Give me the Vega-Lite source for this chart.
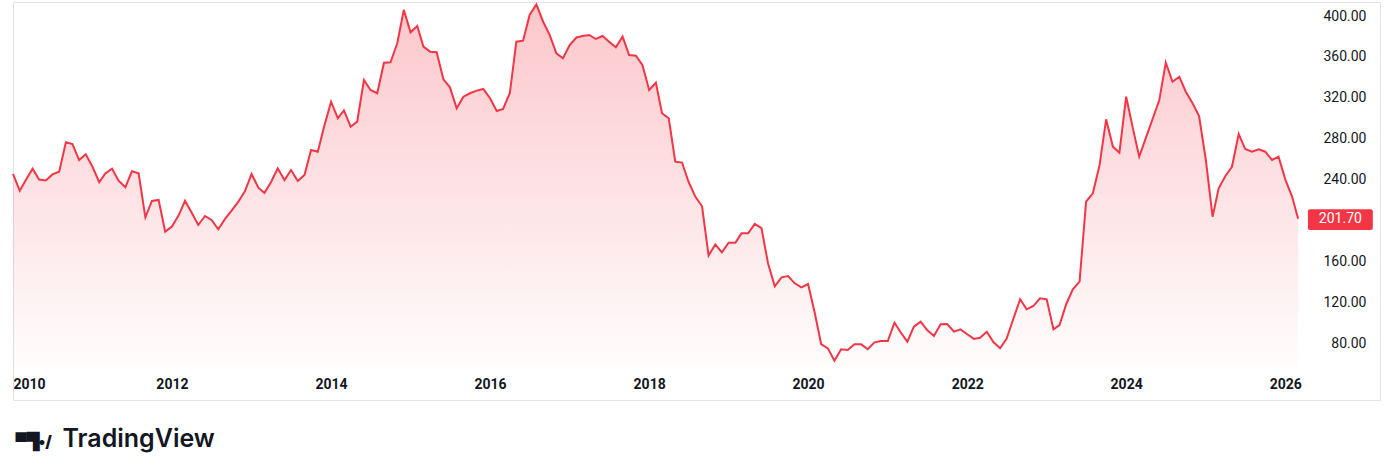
{
  "$schema": "https://vega.github.io/schema/vega-lite/v6.json",
  "width": 1367,
  "height": 398,
  "autosize": {"type": "none"},
  "padding": {"left": 13, "top": 2, "right": 14, "bottom": 76},
  "background": "#ffffff",
  "config": {"view": {"stroke": "#e0e3eb", "strokeWidth": 1}, "font": "Roboto"},
  "data": {"values": [
    {"date": "2010-01-01", "price": 245.4}, {"date": "2010-02-01", "price": 229}, {"date": "2010-03-01", "price": 239.5}, {"date": "2010-04-01", "price": 250.6}, {"date": "2010-05-01", "price": 240}, {"date": "2010-06-01", "price": 239}, {"date": "2010-07-01", "price": 245}, {"date": "2010-08-01", "price": 247.6}, {"date": "2010-09-01", "price": 276.4}, {"date": "2010-10-01", "price": 274.7}, {"date": "2010-11-01", "price": 259}, {"date": "2010-12-01", "price": 264.7},
    {"date": "2011-01-01", "price": 252.5}, {"date": "2011-02-01", "price": 237.3}, {"date": "2011-03-01", "price": 246}, {"date": "2011-04-01", "price": 250.6}, {"date": "2011-05-01", "price": 238.8}, {"date": "2011-06-01", "price": 232.4}, {"date": "2011-07-01", "price": 248}, {"date": "2011-08-01", "price": 246}, {"date": "2011-09-01", "price": 203}, {"date": "2011-10-01", "price": 219}, {"date": "2011-11-01", "price": 220}, {"date": "2011-12-01", "price": 189},
    {"date": "2012-01-01", "price": 194}, {"date": "2012-02-01", "price": 205}, {"date": "2012-03-01", "price": 219.2}, {"date": "2012-04-01", "price": 207.5}, {"date": "2012-05-01", "price": 195.5}, {"date": "2012-06-01", "price": 204.3}, {"date": "2012-07-01", "price": 200.4}, {"date": "2012-08-01", "price": 191.3}, {"date": "2012-09-01", "price": 201.5}, {"date": "2012-10-01", "price": 209.5}, {"date": "2012-11-01", "price": 218.3}, {"date": "2012-12-01", "price": 228.5},
    {"date": "2013-01-01", "price": 245.4}, {"date": "2013-02-01", "price": 232}, {"date": "2013-03-01", "price": 226.8}, {"date": "2013-04-01", "price": 237.8}, {"date": "2013-05-01", "price": 250.9}, {"date": "2013-06-01", "price": 239.5}, {"date": "2013-07-01", "price": 249.3}, {"date": "2013-08-01", "price": 238.5}, {"date": "2013-09-01", "price": 244.4}, {"date": "2013-10-01", "price": 268.9}, {"date": "2013-11-01", "price": 267.2}, {"date": "2013-12-01", "price": 292.5},
    {"date": "2014-01-01", "price": 316.1}, {"date": "2014-02-01", "price": 299.9}, {"date": "2014-03-01", "price": 307.6}, {"date": "2014-04-01", "price": 291.7}, {"date": "2014-05-01", "price": 296.6}, {"date": "2014-06-01", "price": 337.4}, {"date": "2014-07-01", "price": 327.6}, {"date": "2014-08-01", "price": 324.4}, {"date": "2014-09-01", "price": 354.3}, {"date": "2014-10-01", "price": 354.7}, {"date": "2014-11-01", "price": 373.3}, {"date": "2014-12-01", "price": 406},
    {"date": "2015-01-01", "price": 384}, {"date": "2015-02-01", "price": 390.2}, {"date": "2015-03-01", "price": 370}, {"date": "2015-04-01", "price": 365.1}, {"date": "2015-05-01", "price": 364.5}, {"date": "2015-06-01", "price": 338}, {"date": "2015-07-01", "price": 330.2}, {"date": "2015-08-01", "price": 309.7}, {"date": "2015-09-01", "price": 321}, {"date": "2015-10-01", "price": 324.4}, {"date": "2015-11-01", "price": 327}, {"date": "2015-12-01", "price": 328.6},
    {"date": "2016-01-01", "price": 319.5}, {"date": "2016-02-01", "price": 307}, {"date": "2016-03-01", "price": 309}, {"date": "2016-04-01", "price": 324.4}, {"date": "2016-05-01", "price": 374.9}, {"date": "2016-06-01", "price": 375.9}, {"date": "2016-07-01", "price": 401}, {"date": "2016-08-01", "price": 411.4}, {"date": "2016-09-01", "price": 394.4}, {"date": "2016-10-01", "price": 381.4}, {"date": "2016-11-01", "price": 363.5}, {"date": "2016-12-01", "price": 358.6},
    {"date": "2017-01-01", "price": 371.6}, {"date": "2017-02-01", "price": 379}, {"date": "2017-03-01", "price": 380.4}, {"date": "2017-04-01", "price": 381.4}, {"date": "2017-05-01", "price": 377.5}, {"date": "2017-06-01", "price": 380.4}, {"date": "2017-07-01", "price": 374.9}, {"date": "2017-08-01", "price": 369.4}, {"date": "2017-09-01", "price": 379.8}, {"date": "2017-10-01", "price": 361.8}, {"date": "2017-11-01", "price": 361.2}, {"date": "2017-12-01", "price": 352},
    {"date": "2018-01-01", "price": 327.6}, {"date": "2018-02-01", "price": 334.7}, {"date": "2018-03-01", "price": 304.8}, {"date": "2018-04-01", "price": 299.9}, {"date": "2018-05-01", "price": 257.5}, {"date": "2018-06-01", "price": 256.6}, {"date": "2018-07-01", "price": 237.8}, {"date": "2018-08-01", "price": 223.3}, {"date": "2018-09-01", "price": 213.8}, {"date": "2018-10-01", "price": 165.6}, {"date": "2018-11-01", "price": 176.5}, {"date": "2018-12-01", "price": 168.7},
    {"date": "2019-01-01", "price": 178.1}, {"date": "2019-02-01", "price": 178.1}, {"date": "2019-03-01", "price": 187.3}, {"date": "2019-04-01", "price": 187.3}, {"date": "2019-05-01", "price": 196.5}, {"date": "2019-06-01", "price": 192.4}, {"date": "2019-07-01", "price": 158}, {"date": "2019-08-01", "price": 135.5}, {"date": "2019-09-01", "price": 144.3}, {"date": "2019-10-01", "price": 145.6}, {"date": "2019-11-01", "price": 138.4}, {"date": "2019-12-01", "price": 134.5},
    {"date": "2020-01-01", "price": 137.7}, {"date": "2020-02-01", "price": 109.1}, {"date": "2020-03-01", "price": 79}, {"date": "2020-04-01", "price": 74.8}, {"date": "2020-05-01", "price": 62.7}, {"date": "2020-06-01", "price": 73.9}, {"date": "2020-07-01", "price": 73.2}, {"date": "2020-08-01", "price": 78.7}, {"date": "2020-09-01", "price": 78.7}, {"date": "2020-10-01", "price": 73.9}, {"date": "2020-11-01", "price": 80.7}, {"date": "2020-12-01", "price": 82},
    {"date": "2021-01-01", "price": 82}, {"date": "2021-02-01", "price": 99.9}, {"date": "2021-03-01", "price": 90.5}, {"date": "2021-04-01", "price": 81.3}, {"date": "2021-05-01", "price": 96}, {"date": "2021-06-01", "price": 100.9}, {"date": "2021-07-01", "price": 92.7}, {"date": "2021-08-01", "price": 86.9}, {"date": "2021-09-01", "price": 98.3}, {"date": "2021-10-01", "price": 98.6}, {"date": "2021-11-01", "price": 91.1}, {"date": "2021-12-01", "price": 93.4},
    {"date": "2022-01-01", "price": 88.6}, {"date": "2022-02-01", "price": 84}, {"date": "2022-03-01", "price": 85.2}, {"date": "2022-04-01", "price": 91.1}, {"date": "2022-05-01", "price": 81}, {"date": "2022-06-01", "price": 74.8}, {"date": "2022-07-01", "price": 84.3}, {"date": "2022-08-01", "price": 103.7}, {"date": "2022-09-01", "price": 122.8}, {"date": "2022-10-01", "price": 113}, {"date": "2022-11-01", "price": 116.2}, {"date": "2022-12-01", "price": 123.8},
    {"date": "2023-01-01", "price": 122.8}, {"date": "2023-02-01", "price": 93.4}, {"date": "2023-03-01", "price": 97.6}, {"date": "2023-04-01", "price": 118.2}, {"date": "2023-05-01", "price": 132.6}, {"date": "2023-06-01", "price": 140}, {"date": "2023-07-01", "price": 218.3}, {"date": "2023-08-01", "price": 226.5}, {"date": "2023-09-01", "price": 254.2}, {"date": "2023-10-01", "price": 298.9}, {"date": "2023-11-01", "price": 272.2}, {"date": "2023-12-01", "price": 266.3},
    {"date": "2024-01-01", "price": 321}, {"date": "2024-02-01", "price": 290}, {"date": "2024-03-01", "price": 262.3}, {"date": "2024-04-01", "price": 281}, {"date": "2024-05-01", "price": 299}, {"date": "2024-06-01", "price": 317.5}, {"date": "2024-07-01", "price": 354.3}, {"date": "2024-08-01", "price": 335.7}, {"date": "2024-09-01", "price": 340.6}, {"date": "2024-10-01", "price": 325.9}, {"date": "2024-11-01", "price": 314.6}, {"date": "2024-12-01", "price": 302.1},
    {"date": "2025-01-01", "price": 259.1}, {"date": "2025-02-01", "price": 203.6}, {"date": "2025-03-01", "price": 231.4}, {"date": "2025-04-01", "price": 243.4}, {"date": "2025-05-01", "price": 252.5}, {"date": "2025-06-01", "price": 284.5}, {"date": "2025-07-01", "price": 269.8}, {"date": "2025-08-01", "price": 267.2}, {"date": "2025-09-01", "price": 269.5}, {"date": "2025-10-01", "price": 267.2}, {"date": "2025-11-01", "price": 259.1}, {"date": "2025-12-01", "price": 262.3},
    {"date": "2026-01-01", "price": 240.2}, {"date": "2026-02-01", "price": 223.3}, {"date": "2026-03-01", "price": 201.7}
  ]},
  "layer": [
    {
      "mark": {"type": "area", "color": {"gradient": "linear", "x1": 0, "y1": 0, "x2": 0, "y2": 1, "stops": [{"offset": 0, "color": "rgba(242,54,69,0.28)"}, {"offset": 1, "color": "rgba(242,54,69,0.01)"}]}},
      "encoding": {
        "x": {"field": "date", "type": "temporal",
          "scale": {"type": "utc", "domain": [{"year": 2010, "month": 1, "date": 1, "utc": true}, {"year": 2027, "month": 3, "date": 12, "utc": true}], "nice": false},
          "axis": {"values": [{"year": 2010, "utc": true}, {"year": 2012, "utc": true}, {"year": 2014, "utc": true}, {"year": 2016, "utc": true}, {"year": 2018, "utc": true}, {"year": 2020, "utc": true}, {"year": 2022, "utc": true}, {"year": 2024, "utc": true}, {"year": 2026, "utc": true}],
            "format": "%Y", "ticks": false, "tickSize": 0, "domain": false, "grid": false,
            "labelPadding": -16, "labelBaseline": "middle", "labelFlush": true, "labelOverlap": false,
            "labelFont": "Roboto", "labelFontSize": 14, "labelFontWeight": "bold", "labelColor": "#131722",
            "title": "▀▜•/", "titleX": 2, "titleY": 46, "titleAlign": "left", "titleBaseline": "alphabetic", "titleAnchor": null,
            "titleFont": "Inter", "titleFontSize": 16, "titleFontWeight": 900, "titleColor": "#131722"}},
        "y": {"field": "price", "type": "quantitative",
          "scale": {"domain": [24.24, 413.7], "nice": false, "zero": false},
          "axis": {"orient": "right", "values": [80, 120, 160, 240, 280, 320, 360, 400], "format": ".2f",
            "ticks": false, "tickSize": 0, "domain": false, "grid": false,
            "labelAlign": "right", "labelPadding": -14, "labelBaseline": "middle", "labelOverlap": false,
            "labelFont": "Roboto", "labelFontSize": 14, "labelColor": "#131722",
            "title": "TradingView", "titleAngle": 0, "titleX": -1318, "titleY": 444, "titleAlign": "left", "titleBaseline": "alphabetic", "titleAnchor": null,
            "titleFont": "Inter", "titleFontSize": 25, "titleFontWeight": 600, "titleColor": "#131722"}},
        "y2": {"datum": 55}
      }
    },
    {
      "mark": {"type": "line", "color": "#f23645", "strokeWidth": 2},
      "encoding": {
        "x": {"field": "date", "type": "temporal"},
        "y": {"field": "price", "type": "quantitative"}
      }
    },
    {
      "transform": [{"filter": "datum.price == 201.7"}],
      "mark": {"type": "rect", "color": "#f23645", "cornerRadius": 2},
      "encoding": {
        "x": {"datum": {"year": 2026, "month": 4, "date": 15, "utc": true}},
        "x2": {"datum": {"year": 2027, "month": 2, "date": 7, "utc": true}},
        "y": {"datum": 211},
        "y2": {"datum": 190.7}
      }
    },
    {
      "transform": [{"filter": "datum.price == 201.7"}],
      "mark": {"type": "text", "color": "#ffffff", "font": "Roboto", "fontSize": 14, "baseline": "middle", "align": "center"},
      "encoding": {
        "x": {"datum": {"year": 2026, "month": 9, "date": 11, "utc": true}},
        "y": {"field": "price", "type": "quantitative"},
        "text": {"field": "price", "type": "quantitative", "format": ".2f"}
      }
    }
  ]
}
